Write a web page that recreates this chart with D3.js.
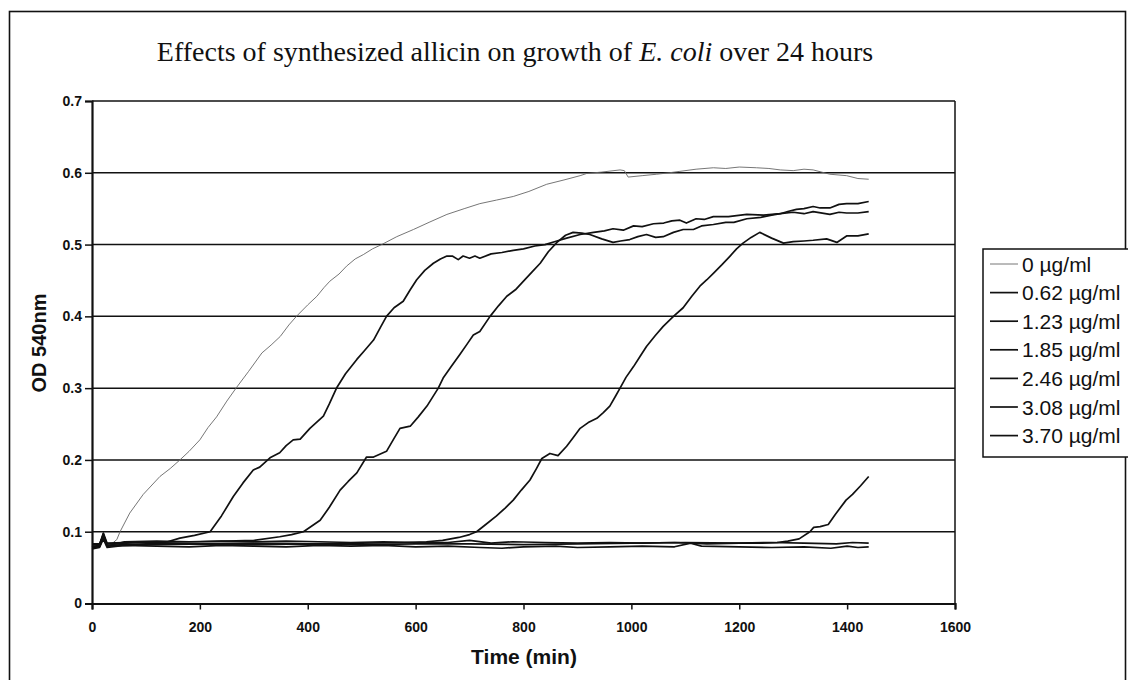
<!DOCTYPE html>
<html><head><meta charset="utf-8">
<script src="https://cdn.jsdelivr.net/npm/d3@7"></script>
<style>body{margin:0;background:#fff;} svg{display:block;}</style>
</head><body>
<svg id="c" width="1128" height="680"></svg>
<script>
// ---- data ----
const seriesNames = ["0 µg/ml","0.62 µg/ml","1.23 µg/ml","1.85 µg/ml","2.46 µg/ml","3.08 µg/ml","3.70 µg/ml"];
const xTicks = [0,200,400,600,800,1000,1200,1400,1600];
const yTicks = [0,0.1,0.2,0.3,0.4,0.5,0.6,0.7];

const s000 = [[0,0.080],[8,0.078],[14,0.081],[21,0.098],[28,0.082],[38,0.084],[46,0.089],[52,0.100],[70,0.126],[95,0.152],[126,0.177],[145,0.188],[163,0.200],[180,0.212],[200,0.228],[215,0.245],[231,0.260],[250,0.282],[268,0.301],[290,0.323],[315,0.349],[332,0.360],[349,0.372],[365,0.388],[379,0.400],[400,0.416],[417,0.428],[430,0.440],[441,0.449],[458,0.459],[472,0.470],[488,0.480],[503,0.486],[520,0.494],[537,0.500],[565,0.511],[596,0.521],[625,0.531],[658,0.542],[690,0.550],[719,0.557],[750,0.562],[781,0.567],[810,0.574],[843,0.584],[875,0.590],[905,0.596],[917,0.599],[945,0.601],[979,0.604],[987,0.603],[994,0.594],[1020,0.596],[1047,0.598],[1070,0.600],[1090,0.602],[1120,0.605],[1152,0.607],[1175,0.606],[1200,0.608],[1232,0.607],[1255,0.606],[1276,0.604],[1300,0.603],[1320,0.605],[1337,0.604],[1368,0.598],[1399,0.596],[1420,0.592],[1440,0.591]];
const s062 = [[0,0.082],[14,0.082],[21,0.098],[28,0.084],[60,0.085],[100,0.086],[140,0.086],[163,0.091],[190,0.095],[219,0.100],[240,0.122],[262,0.149],[280,0.168],[299,0.186],[311,0.190],[330,0.203],[348,0.210],[360,0.220],[373,0.228],[386,0.229],[404,0.244],[429,0.261],[440,0.278],[454,0.301],[470,0.320],[491,0.340],[505,0.352],[522,0.367],[535,0.385],[546,0.400],[560,0.412],[577,0.421],[590,0.437],[602,0.451],[617,0.464],[633,0.474],[646,0.480],[658,0.484],[668,0.484],[679,0.479],[688,0.484],[700,0.481],[710,0.484],[719,0.481],[740,0.487],[760,0.489],[781,0.492],[800,0.494],[821,0.498],[840,0.500],[862,0.505],[880,0.509],[905,0.514],[930,0.517],[950,0.519],[966,0.522],[985,0.520],[1004,0.526],[1020,0.525],[1041,0.529],[1060,0.530],[1075,0.533],[1090,0.534],[1102,0.530],[1120,0.536],[1135,0.535],[1152,0.539],[1180,0.539],[1214,0.542],[1245,0.541],[1276,0.543],[1300,0.545],[1320,0.543],[1337,0.546],[1368,0.542],[1385,0.545],[1399,0.544],[1420,0.544],[1440,0.546]];
const s123 = [[0,0.083],[14,0.083],[21,0.095],[28,0.083],[100,0.085],[200,0.086],[300,0.088],[348,0.093],[370,0.096],[392,0.100],[423,0.116],[440,0.134],[460,0.158],[475,0.170],[491,0.182],[509,0.204],[522,0.204],[546,0.212],[560,0.230],[571,0.244],[590,0.247],[605,0.260],[621,0.275],[642,0.300],[651,0.314],[666,0.330],[682,0.347],[696,0.362],[707,0.374],[719,0.379],[738,0.400],[754,0.415],[769,0.428],[785,0.437],[800,0.449],[816,0.462],[831,0.474],[846,0.490],[862,0.503],[878,0.513],[892,0.517],[908,0.516],[923,0.514],[945,0.508],[966,0.503],[980,0.505],[997,0.507],[1012,0.511],[1028,0.514],[1045,0.510],[1059,0.511],[1078,0.517],[1096,0.521],[1115,0.521],[1130,0.526],[1152,0.528],[1175,0.531],[1190,0.531],[1214,0.536],[1240,0.538],[1260,0.541],[1276,0.543],[1290,0.546],[1306,0.549],[1320,0.550],[1337,0.553],[1350,0.551],[1368,0.551],[1385,0.556],[1399,0.557],[1420,0.557],[1440,0.560]];
const s185 = [[0,0.080],[14,0.080],[21,0.097],[28,0.081],[100,0.083],[200,0.083],[300,0.084],[400,0.083],[500,0.084],[580,0.085],[620,0.086],[650,0.088],[680,0.092],[700,0.096],[713,0.100],[730,0.110],[750,0.122],[766,0.133],[781,0.144],[796,0.158],[812,0.172],[824,0.188],[834,0.202],[849,0.209],[864,0.206],[880,0.219],[893,0.232],[905,0.244],[920,0.252],[936,0.258],[948,0.266],[960,0.275],[970,0.288],[979,0.300],[990,0.315],[1004,0.330],[1016,0.344],[1028,0.358],[1044,0.373],[1059,0.386],[1078,0.400],[1096,0.412],[1112,0.428],[1127,0.442],[1140,0.451],[1152,0.460],[1168,0.472],[1183,0.484],[1195,0.494],[1207,0.502],[1222,0.510],[1238,0.517],[1260,0.509],[1282,0.502],[1300,0.504],[1320,0.505],[1337,0.506],[1362,0.508],[1381,0.503],[1399,0.512],[1420,0.512],[1440,0.515]];
const s246 = [[0,0.078],[14,0.079],[21,0.092],[28,0.080],[100,0.082],[200,0.083],[300,0.082],[400,0.083],[500,0.082],[600,0.083],[700,0.083],[800,0.082],[900,0.083],[1000,0.084],[1100,0.085],[1200,0.084],[1240,0.084],[1270,0.085],[1290,0.087],[1311,0.090],[1331,0.100],[1338,0.106],[1350,0.107],[1365,0.110],[1378,0.124],[1398,0.144],[1410,0.152],[1425,0.164],[1440,0.177]];
const s308 = [[0,0.076],[14,0.078],[21,0.090],[28,0.078],[60,0.081],[120,0.080],[180,0.079],[240,0.081],[300,0.080],[360,0.079],[420,0.081],[480,0.080],[540,0.081],[600,0.079],[660,0.080],[720,0.078],[760,0.077],[800,0.079],[860,0.080],[900,0.078],[960,0.079],[1020,0.080],[1080,0.079],[1110,0.084],[1130,0.080],[1200,0.079],[1260,0.078],[1320,0.079],[1370,0.077],[1400,0.080],[1420,0.078],[1440,0.079]];
const s370 = [[0,0.079],[14,0.081],[21,0.094],[28,0.080],[60,0.086],[120,0.087],[180,0.086],[240,0.087],[300,0.086],[360,0.087],[420,0.086],[480,0.085],[540,0.086],[600,0.085],[660,0.085],[700,0.088],[740,0.084],[780,0.086],[840,0.085],[900,0.084],[960,0.085],[1020,0.084],[1080,0.085],[1140,0.083],[1200,0.084],[1260,0.085],[1320,0.084],[1380,0.083],[1410,0.085],[1440,0.084]];

const seriesData = [s000,s062,s123,s185,s246,s308,s370];

// ---- drawing ----
const svg = d3.select("#c");
const x = d3.scaleLinear().domain([0,1600]).range([92,955]);
const y = d3.scaleLinear().domain([0,0.7]).range([603.5,101]);
const sans = "'Liberation Sans', Arial, sans-serif";
const serif = "'Liberation Serif', 'Times New Roman', serif";

// outer frame
svg.append("rect").attr("x",9.5).attr("y",11.5).attr("width",1116).attr("height",720)
  .attr("fill","none").attr("stroke","#111").attr("stroke-width",1.6);

// title
const title = svg.append("text").attr("x",515).attr("y",61).attr("text-anchor","middle")
  .attr("font-family",serif).attr("font-size",28).attr("fill","#111");
title.append("tspan").text("Effects of synthesized allicin on growth of ");
title.append("tspan").attr("font-style","italic").text("E. coli");
title.append("tspan").text(" over 24 hours");

// gridlines
svg.append("g").selectAll("line").data(yTicks.filter(d=>d>0)).join("line")
  .attr("x1",x(0)).attr("x2",x(1600)).attr("y1",d=>y(d)).attr("y2",d=>y(d))
  .attr("stroke","#111").attr("stroke-width",1.5);
// right border
svg.append("line").attr("x1",x(1600)).attr("x2",x(1600)).attr("y1",y(0.7)).attr("y2",y(0))
  .attr("stroke","#111").attr("stroke-width",1.5);

// axes
const yAxis = svg.append("g").attr("transform",`translate(${x(0)},0)`)
  .call(d3.axisLeft(y).tickValues(yTicks).tickFormat(d=>d===0?"0":d3.format(".1f")(d)).tickSize(7).tickPadding(3));
const xAxis = svg.append("g").attr("transform",`translate(0,${y(0)})`)
  .call(d3.axisBottom(x).tickValues(xTicks).tickFormat(d3.format("d")).tickSize(6).tickPadding(13));
[yAxis,xAxis].forEach(g=>{
  g.select(".domain").attr("stroke","#111").attr("stroke-width",2.2);
  g.selectAll(".tick line").attr("stroke","#111").attr("stroke-width",1.5);
  g.selectAll("text").attr("font-family",sans).attr("font-weight","bold").attr("font-size",14).attr("fill","#111");
});

// axis titles
svg.append("text").attr("x",524).attr("y",664).attr("text-anchor","middle")
  .attr("font-family",sans).attr("font-weight","bold").attr("font-size",21).attr("fill","#111").text("Time (min)");
svg.append("text").attr("transform","translate(46,343) rotate(-90)").attr("text-anchor","middle")
  .attr("font-family",sans).attr("font-weight","bold").attr("font-size",20).attr("fill","#111").text("OD 540nm");

// series lines
const line = d3.line().x(d=>x(d[0])).y(d=>y(d[1]));
const widths = [0.9,1.7,1.7,1.7,1.7,1.7,1.7];
const colors = ["#666","#111","#111","#111","#111","#111","#111"];
svg.append("g").selectAll("path").data(seriesData).join("path")
  .attr("d",line).attr("fill","none")
  .attr("stroke",(d,i)=>colors[i]).attr("stroke-width",(d,i)=>widths[i]).attr("stroke-linejoin","round");

// legend
const lg = svg.append("g");
lg.append("rect").attr("x",983).attr("y",249).attr("width",160).attr("height",208)
  .attr("fill","#fff").attr("stroke","#111").attr("stroke-width",1.5);
const rows = lg.selectAll("g.row").data(seriesNames).join("g").attr("class","row")
  .attr("transform",(d,i)=>`translate(0,${264+i*28.6})`);
rows.append("line").attr("x1",990).attr("x2",1018).attr("y1",0).attr("y2",0)
  .attr("stroke",(d,i)=>colors[i]).attr("stroke-width",(d,i)=>widths[i]);
rows.append("text").attr("x",1022).attr("y",0).attr("dy","0.36em")
  .attr("font-family",sans).attr("font-size",21).attr("fill","#111").text(d=>d);
</script>
</body></html>
